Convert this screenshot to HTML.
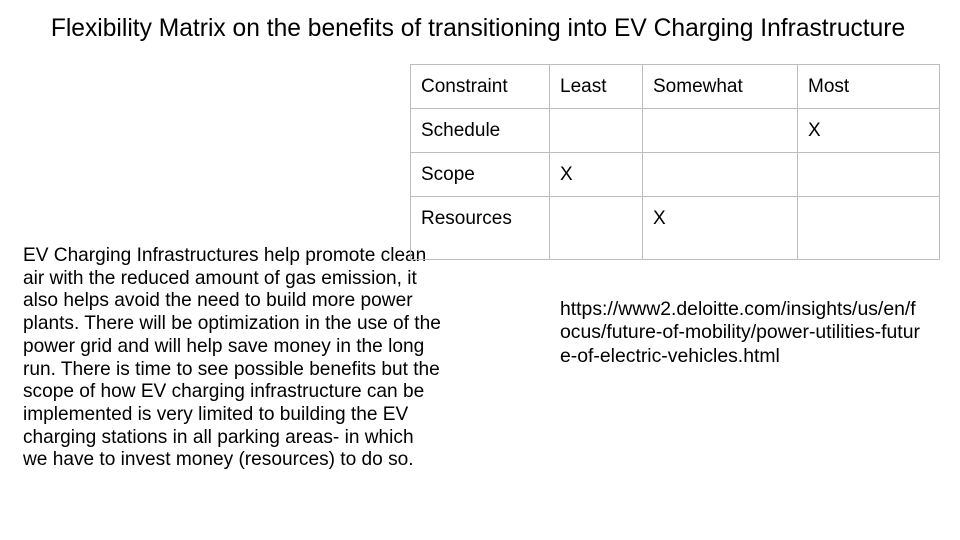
<!DOCTYPE html>
<html><head><meta charset="utf-8">
<style>
html,body{margin:0;padding:0;background:#fff;}
#slide{position:relative;width:960px;height:540px;overflow:hidden;background:#fff;font-family:"Liberation Sans",Arial,sans-serif;color:#000;}
.t{position:absolute;white-space:nowrap;}
#title{left:0;width:956px;top:15px;text-align:center;font-size:24.6px;}
table{position:absolute;left:410px;top:64px;border-collapse:collapse;font-size:19px;table-layout:fixed;width:529px;}
td{border:1.5px solid #bdbdbd;padding:0 0 0 10px;vertical-align:top;line-height:43px;overflow:hidden;white-space:nowrap;}
#para{left:23px;top:245px;font-size:19.1px;line-height:22.7px;}
#url{left:560px;top:298px;font-size:19.4px;line-height:23.3px;}
</style></head>
<body>
<div id="slide">
<div class="t" id="title">Flexibility Matrix on the benefits of transitioning into EV Charging Infrastructure</div>
<div class="t" id="para">EV Charging Infrastructures help promote clean<br>air with the reduced amount of gas emission, it<br>also helps avoid the need to build more power<br>plants. There will be optimization in the use of the<br>power grid and will help save money in the long<br>run. There is time to see possible benefits but the<br>scope of how EV charging infrastructure can be<br>implemented is very limited to building the EV<br>charging stations in all parking areas- in which<br>we have to invest money (resources) to do so.</div>
<table>
<colgroup><col style="width:139px"><col style="width:93px"><col style="width:155px"><col style="width:142px"></colgroup>
<tr style="height:43px"><td>Constraint</td><td>Least</td><td>Somewhat</td><td>Most</td></tr>
<tr style="height:43px"><td>Schedule</td><td></td><td></td><td>X</td></tr>
<tr style="height:43px"><td>Scope</td><td>X</td><td></td><td></td></tr>
<tr style="height:63px"><td>Resources</td><td></td><td>X</td><td></td></tr>
</table>
<div class="t" id="url">https://www2.deloitte.com/insights/us/en/f<br>ocus/future-of-mobility/power-utilities-futur<br>e-of-electric-vehicles.html</div>
</div>
</body></html>
